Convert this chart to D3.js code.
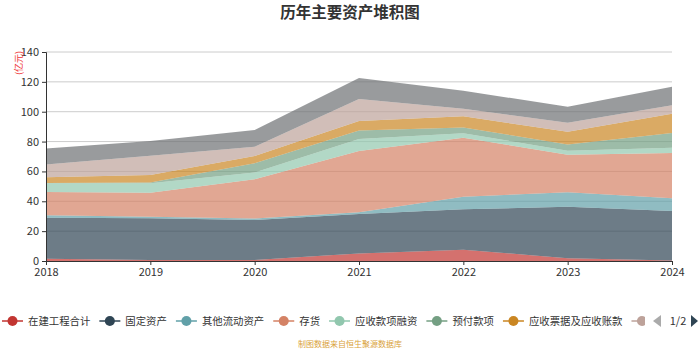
<!DOCTYPE html>
<html>
<head>
<meta charset="utf-8">
<script src="https://cdn.jsdelivr.net/npm/d3@7"></script>
<style>
  body { margin: 0; background: #fff; }
  text { font-family: "Noto Sans CJK SC", "Noto Sans", sans-serif; }
</style>
</head>
<body>
<div id="chart"></div>
<script>
"use strict";

// data (亿元)
const years = ["2018", "2019", "2020", "2021", "2022", "2023", "2024"];
const seriesNames = ["在建工程合计", "固定资产", "其他流动资产", "存货", "应收款项融资",
    "预付款项", "应收票据及应收账款", "无形资产", "货币资金"];
const seriesColors = ["#c23531", "#2f4554", "#61a0a8", "#d48265", "#91c7ae",
    "#749f83", "#ca8622", "#bda29a", "#6e7074"];
const zaijian = [1.5, 0.7, 0.7, 5.1, 7.6, 1.8, 0.3];
const guding = [27.5, 27.9, 26.8, 26.4, 27.0, 34.6, 33.2];
const qitaLiudong = [1.6, 1.1, 0.9, 1.1, 8.5, 9.6, 8.5];
const cunhuo = [15.6, 16.1, 26.3, 41.1, 39.5, 25.2, 30.3];
const yingshouRongzi = [5.8, 6.2, 4.5, 8.0, 2.9, 2.7, 3.6];
const yufu = [0.3, 0.6, 6.2, 5.8, 4.0, 4.2, 9.8];
const yingshouZhangkuan = [3.8, 5.0, 4.9, 6.3, 7.4, 8.5, 13.0];
const wuxing = [8.5, 12.9, 6.3, 14.7, 5.1, 6.0, 5.6];
const huobi = [10.7, 9.9, 11.1, 14.1, 12.1, 10.7, 12.5];
const yTicks = [0, 20, 40, 60, 80, 100, 120, 140];

const seriesValues = [zaijian, guding, qitaLiudong, cunhuo, yingshouRongzi,
    yufu, yingshouZhangkuan, wuxing, huobi];

// table for d3.stack
const table = years.map((y, i) => {
    const row = { year: y };
    seriesNames.forEach((n, k) => { row[n] = seriesValues[k][i]; });
    return row;
});

const svgWidth = 700, svgHeight = 350;
const margin = { top: 52, right: 28, bottom: 89, left: 46 };
const plotW = svgWidth - margin.left - margin.right,
    plotH = svgHeight - margin.top - margin.bottom;

const svg = d3.select("#chart").append("svg")
    .attr("width", svgWidth)
    .attr("height", svgHeight);

// title
svg.append("text")
    .attr("x", 350).attr("y", 18)
    .attr("text-anchor", "middle")
    .attr("font-size", 15.5)
    .attr("font-weight", "bold")
    .attr("fill", "#333")
    .text("历年主要资产堆积图");

const x = d3.scalePoint().domain(years).range([0, plotW]);
const y = d3.scaleLinear().domain([0, 140]).range([plotH, 0]);

const g = svg.append("g")
    .attr("transform", "translate(" + margin.left + "," + margin.top + ")");

// grid
g.append("g")
    .selectAll("line")
    .data(yTicks.filter(t => t > 0))
    .enter().append("line")
    .attr("x1", 0).attr("x2", plotW)
    .attr("y1", d => y(d)).attr("y2", d => y(d))
    .attr("stroke", "#ccc")
    .attr("stroke-width", 1);

// areas
const stacked = d3.stack().keys(seriesNames)(table);
const area = d3.area()
    .x(d => x(d.data.year))
    .y0(d => y(d[0]))
    .y1(d => y(d[1]));

g.append("g")
    .selectAll("path")
    .data(stacked)
    .enter().append("path")
    .attr("d", area)
    .attr("fill", (d, i) => seriesColors[i])
    .attr("fill-opacity", 0.7);

// y axis
const yAxis = g.append("g")
    .call(d3.axisLeft(y).tickValues(yTicks).tickSize(4).tickPadding(3));
yAxis.select(".domain").attr("stroke", "#333");
yAxis.selectAll(".tick line").attr("stroke", "#333");
yAxis.selectAll("text").attr("font-size", 11).attr("fill", "#333")
    .attr("font-family", "\"Noto Sans\", sans-serif");

// x axis
const xAxis = g.append("g")
    .attr("transform", "translate(0," + plotH + ")")
    .call(d3.axisBottom(x).tickSize(4).tickPadding(3));
xAxis.select(".domain").attr("stroke", "#333");
xAxis.selectAll(".tick line").attr("stroke", "#333");
xAxis.selectAll("text").attr("font-size", 11).attr("fill", "#333")
    .attr("font-family", "\"Noto Sans\", sans-serif");

// unit label
svg.append("text")
    .attr("transform", "translate(22,63) rotate(-90)")
    .attr("text-anchor", "middle")
    .attr("font-size", 9)
    .attr("fill", "#e33")
    .text("(亿元)");

// legend (page 1 of 2, clipped at page controls)
svg.append("clipPath").attr("id", "legendClip")
    .append("rect").attr("x", 0).attr("y", 300).attr("width", 645).attr("height", 40);

const legend = svg.append("g").attr("clip-path", "url(#legendClip)");
let lx = 2;
const ly = 321;
seriesNames.forEach((n, i) => {
    const item = legend.append("g").attr("transform", "translate(" + lx + "," + ly + ")");
    item.append("line")
        .attr("x1", 0).attr("x2", 21).attr("y1", 0).attr("y2", 0)
        .attr("stroke", seriesColors[i]).attr("stroke-width", 1.5);
    item.append("circle")
        .attr("cx", 10.5).attr("cy", 0).attr("r", 5)
        .attr("fill", seriesColors[i]);
    const t = item.append("text")
        .attr("x", 26).attr("y", 4)
        .attr("font-size", 10.4)
        .attr("fill", "#333")
        .text(n);
    lx += 26 + t.node().getComputedTextLength() + 9;
});

// page controls
svg.append("path").attr("d", "M653,321 L661,315 L661,327 Z").attr("fill", "#aaa");
svg.append("text").attr("x", 678).attr("y", 325).attr("text-anchor", "middle")
    .attr("font-size", 11).attr("fill", "#333").text("1/2");
svg.append("path").attr("d", "M691,315 L698,321 L691,327 Z").attr("fill", "#2f4554");

// footer
svg.append("text")
    .attr("x", 350).attr("y", 347)
    .attr("text-anchor", "middle")
    .attr("font-size", 8)
    .attr("fill", "#d9a23a")
    .text("制图数据来自恒生聚源数据库");
</script>
</body>
</html>
